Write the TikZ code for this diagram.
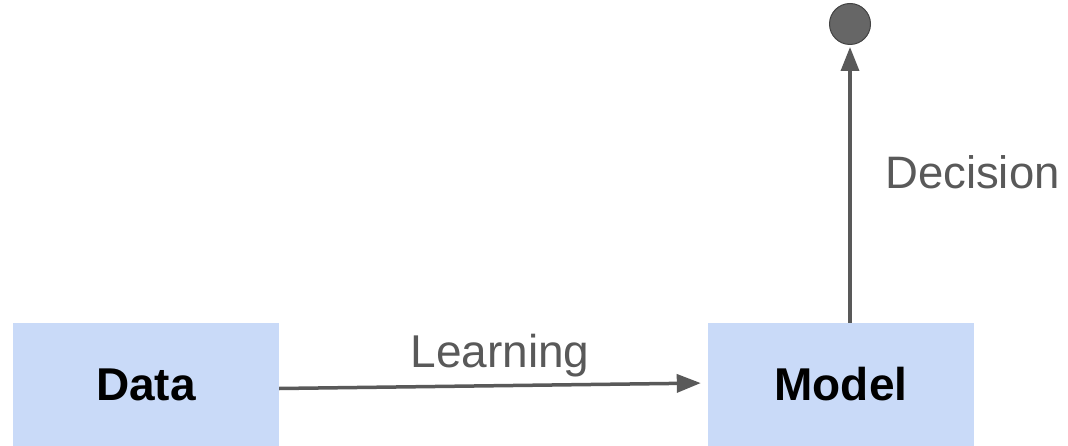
\documentclass[tikz,border=0pt]{standalone}
\usepackage{fontspec}
\setmainfont{Liberation Sans}
\usetikzlibrary{arrows.meta}
\definecolor{boxblue}{HTML}{C9DAF8}
\definecolor{linegray}{HTML}{595959}
\definecolor{dotgray}{HTML}{666666}
\definecolor{dotedge}{HTML}{434343}
\begin{document}
\begin{tikzpicture}[x=1pt,y=-1pt,
        block/.style={rectangle,fill=boxblue,minimum width=266pt,minimum height=123pt,inner sep=0pt,
            font=\fontsize{46}{50}\selectfont\bfseries,text=black},
        flow/.style={draw=linegray,line width=3.5pt,-{Triangle[length=24pt,width=18pt]}},
        caption/.style={inner sep=0pt,text=linegray},
        sink/.style={circle,fill=dotgray,draw=dotedge,line width=1pt,minimum size=41pt,inner sep=0pt}]
        \useasboundingbox (0,0) rectangle (1068,446);
        % Boxes and end point
        \node[block] (data) at (146,384.5) {Data};
        \node[block] (model) at (841,384.5) {Model};
        \node[sink] (out) at (850,24) {};
        % Connectors
        \draw[flow,shorten >=7pt] ([yshift=-4pt]data.east) -- ([yshift=1.5pt]model.west);
        \draw[flow,shorten >=2pt] ([xshift=9pt]model.north) -- (out.south);
        % Labels
        \node[caption,anchor=base,font=\fontsize{46}{50}\selectfont] (learn) at (500,367) {Learning};
        \node[caption,anchor=base west,font=\fontsize{45.5}{50}\selectfont] (decide) at (885,189) {Decision};
    \end{tikzpicture}
\end{document}
